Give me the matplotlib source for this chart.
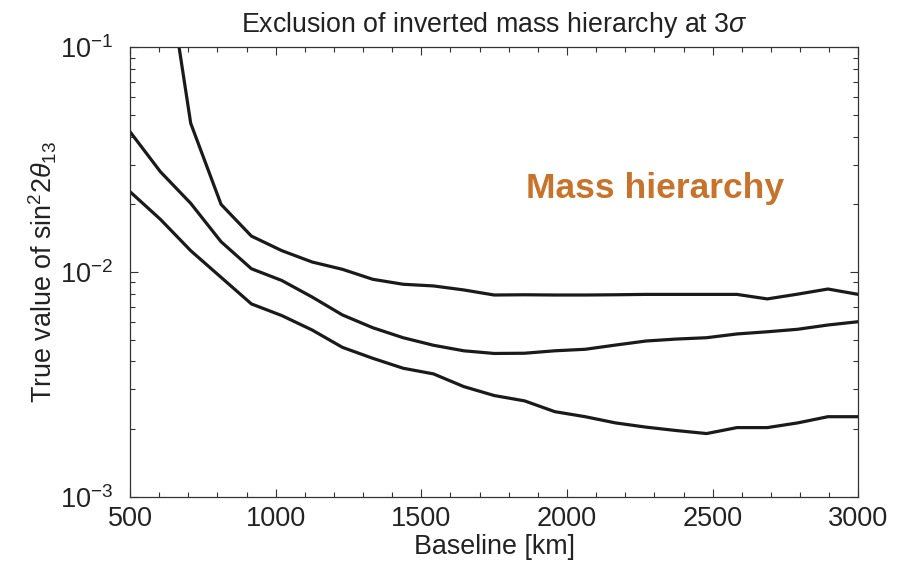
import numpy as np
import matplotlib
matplotlib.use('Agg')
import matplotlib.pyplot as plt
from matplotlib.ticker import MultipleLocator, LogLocator, NullFormatter

plt.rcParams['font.family'] = ['Liberation Sans', 'DejaVu Sans']
plt.rcParams['mathtext.fontset'] = 'custom'
plt.rcParams['mathtext.rm'] = 'Liberation Sans'
plt.rcParams['mathtext.it'] = 'Liberation Sans:italic'

# baselines [km], 25 points between 500 and 3000
baseline = np.linspace(500, 3000, 25)

# 3 sigma exclusion contours (true sin^2 2theta13)
upper = [0.35, 0.0459, 0.0200, 0.01445, 0.01245, 0.01108, 0.01028, 0.00928,
         0.00882, 0.00867, 0.00832, 0.00790, 0.00792, 0.00790, 0.00790,
         0.00792, 0.00795, 0.00795, 0.00795, 0.00795, 0.00759, 0.00797,
         0.00840, 0.00795]
middle = [0.0421, 0.02795, 0.02021, 0.01364, 0.01034, 0.00917, 0.00774,
          0.00644, 0.00565, 0.00510, 0.00472, 0.00446, 0.00434, 0.00435,
          0.00446, 0.00453, 0.00473, 0.00493, 0.00503, 0.00510, 0.00530,
          0.00542, 0.00556, 0.00581, 0.00601]
lower = [0.02277, 0.01716, 0.01244, 0.00947, 0.00721, 0.00640, 0.00552,
         0.00462, 0.00413, 0.00373, 0.00352, 0.00309, 0.00282, 0.00267,
         0.00239, 0.00227, 0.00213, 0.00204, 0.00197, 0.00191, 0.00203,
         0.00203, 0.00213, 0.00227, 0.00227]

txt = '#222222'

fig = plt.figure(figsize=(9.03, 5.62), dpi=100)
ax = fig.add_axes([0.144, 0.1162, 0.8065, 0.7996])

lw = 2.3
ax.plot(baseline[1:], upper, color='#1a1a1a', lw=lw)
ax.plot(baseline, middle, color='#1a1a1a', lw=lw)
ax.plot(baseline, lower, color='#1a1a1a', lw=lw)

ax.set_yscale('log')
ax.set_xlim(500, 3000)
ax.set_ylim(1e-3, 1e-1)
ax.xaxis.set_major_locator(MultipleLocator(500))
ax.xaxis.set_minor_locator(MultipleLocator(100))
ax.yaxis.set_major_locator(LogLocator(base=10))
ax.yaxis.set_minor_locator(LogLocator(base=10, subs=np.arange(2, 10)))
ax.yaxis.set_minor_formatter(NullFormatter())

ax.tick_params(which='both', direction='in', top=True, right=True,
               labelsize=19.5, color='#333333', width=0.8, labelcolor=txt)
ax.tick_params(which='major', length=6)
ax.tick_params(axis='x', which='major', pad=7)
ax.tick_params(axis='y', which='major', pad=12)
ax.tick_params(which='minor', length=3.5)
for s in ax.spines.values():
    s.set_color('#333333')
    s.set_linewidth(0.9)

ax.set_title(r'Exclusion of inverted mass hierarchy at 3$\sigma$',
             fontsize=19.3, pad=11, color=txt)
ax.set_xlabel('Baseline [km]', fontsize=19.4, labelpad=1, color=txt)
ax.set_ylabel(r'True value of sin$^2 2\theta_{13}$', fontsize=19.4,
              labelpad=1, color=txt)

ax.text(0.721, 0.686, 'Mass hierarchy', transform=ax.transAxes,
        ha='center', va='center', fontsize=25.5, fontweight='bold',
        color='#c8732b')

fig.savefig('out.png', dpi=100)
